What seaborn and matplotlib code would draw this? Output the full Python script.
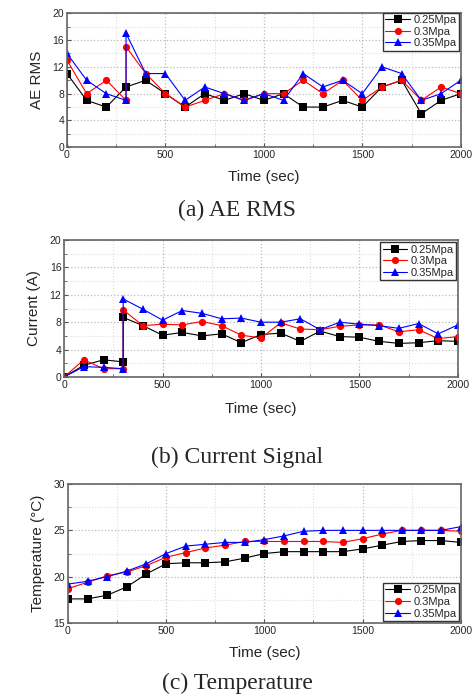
import pandas as pd
import matplotlib.pyplot as plt
import seaborn as sns
from matplotlib.ticker import MultipleLocator

# ---- data ----
pressures = ['0.25Mpa', '0.3Mpa', '0.35Mpa']

time = [0, 100, 200, 300, 400, 500, 600, 700, 800, 900, 1000,
        1100, 1200, 1300, 1400, 1500, 1600, 1700, 1800, 1900, 2000]
# same times with the step at 300 s (and at 0 s) written twice
time_j300 = [0, 100, 200, 300, 300, 400, 500, 600, 700, 800, 900, 1000,
             1100, 1200, 1300, 1400, 1500, 1600, 1700, 1800, 1900, 2000]
time_j0_300 = [0, 0, 100, 200, 300, 300, 400, 500, 600, 700, 800, 900, 1000,
               1100, 1200, 1300, 1400, 1500, 1600, 1700, 1800, 1900, 2000]

ae_025 = [11, 7, 6, 9, 10, 8, 6, 8, 7, 8, 7, 8, 6, 6, 7, 6, 9, 10, 5, 7, 8]
ae_030 = [13, 8, 10, 7, 15, 11, 8, 6, 7, 8, 7, 8, 8, 10, 8, 10, 7, 9, 10, 7, 9, 8]
ae_035 = [0, 14, 10, 8, 7, 17, 11, 11, 7, 9, 8, 7, 8, 7, 11, 9, 10, 8, 12, 11, 7, 8, 10]

cur_025 = [0, 1.7, 2.5, 2.2, 8.7, 7.5, 6.1, 6.5, 6.0, 6.3, 5.0, 6.2,
           6.4, 5.2, 6.7, 5.9, 5.8, 5.2, 4.9, 5.0, 5.3, 5.2]
cur_030 = [0, 2.5, 1.2, 1.2, 9.8, 7.5, 7.7, 7.6, 8.1, 7.5, 6.1, 5.7,
           7.9, 7.0, 6.9, 7.4, 7.6, 7.6, 6.6, 6.9, 5.6, 5.9]
cur_035 = [0, 1.5, 1.4, 1.2, 11.4, 9.9, 8.3, 9.7, 9.3, 8.5, 8.6, 8.0,
           8.0, 8.5, 6.9, 8.0, 7.7, 7.5, 7.1, 7.8, 6.3, 7.6]

temp_025 = [17.6, 17.6, 18.0, 18.9, 20.3, 21.4, 21.5, 21.5, 21.6, 22.0, 22.5,
            22.7, 22.7, 22.7, 22.7, 23.0, 23.4, 23.8, 23.9, 23.9, 23.7]
temp_030 = [18.7, 19.4, 20.1, 20.5, 21.2, 22.1, 22.6, 23.1, 23.4, 23.8, 23.8,
            23.8, 23.8, 23.8, 23.7, 24.1, 24.6, 25.0, 25.0, 25.0, 24.9]
temp_035 = [19.2, 19.5, 20.0, 20.6, 21.4, 22.5, 23.3, 23.5, 23.7, 23.7, 24.0,
            24.4, 24.9, 25.0, 25.0, 25.0, 25.0, 25.0, 25.0, 25.0, 25.4]

palette = {'0.25Mpa': '#000000', '0.3Mpa': '#ff0000', '0.35Mpa': '#0000ff'}
markers = {'0.25Mpa': 's', '0.3Mpa': 'o', '0.35Mpa': '^'}


def long_df(series):
    rows = []
    for name, (t, v) in zip(pressures, series):
        for x, y in zip(t, v):
            rows.append({'Time': x, 'Value': y, 'Pressure': name})
    return pd.DataFrame(rows)


sns.set_theme(style="white")
plt.rcParams['font.family'] = ['Liberation Sans', 'DejaVu Sans']

fig = plt.figure(figsize=(4.75, 6.98), dpi=100)

panels = [
    dict(rect=[0.141, 0.789, 0.829, 0.192], ylabel='AE RMS', ylim=(0, 20), major=4, minor=2,
         series=[(time, ae_025), (time_j300, ae_030), (time_j0_300, ae_035)],
         leg_loc='upper right', leg_anchor=(1.0, 1.02), caption='(a) AE RMS', cap_y=210, xl_y=177),
    dict(rect=[0.135, 0.460, 0.829, 0.196], ylabel='Current (A)', ylim=(0, 20), major=4, minor=2,
         series=[(time_j300, cur_025), (time_j300, cur_030), (time_j300, cur_035)],
         leg_loc='upper right', leg_anchor=(1.0, 1.0), caption='(b) Current Signal', cap_y=457, xl_y=409),
    dict(rect=[0.143, 0.1075, 0.827, 0.199], ylabel='Temperature (°C)', ylim=(15, 30), major=5, minor=2.5,
         series=[(time, temp_025), (time, temp_030), (time, temp_035)],
         leg_loc='lower right', leg_anchor=(1.0, 0.0), caption='(c) Temperature', cap_y=683, xl_y=653),
]

for p in panels:
    ax = fig.add_axes(p['rect'])
    df = long_df(p['series'])
    sns.lineplot(data=df, x='Time', y='Value', hue='Pressure', style='Pressure',
                 palette=palette, markers=markers, dashes=False, sort=False,
                 estimator=None, units='Pressure', linewidth=0.8, markersize=5.2,
                 markeredgewidth=0, ax=ax)
    ax.set_xlim(0, 2000)
    ax.set_ylim(*p['ylim'])
    ax.xaxis.set_major_locator(MultipleLocator(500))
    ax.xaxis.set_minor_locator(MultipleLocator(250))
    ax.yaxis.set_major_locator(MultipleLocator(p['major']))
    ax.yaxis.set_minor_locator(MultipleLocator(p['minor']))
    ax.grid(which='major', color='#bbbbbb', linestyle=':', linewidth=0.9)
    ax.grid(which='minor', color='#dddddd', linestyle=':', linewidth=0.8)
    ax.tick_params(which='major', direction='in', length=3, width=0.8, labelsize=7.5,
                   color='#555555', bottom=True, left=True, pad=2)
    ax.tick_params(which='minor', direction='in', length=2, width=0.6,
                   color='#555555', bottom=True, left=True)
    for s in ax.spines.values():
        s.set_color('#666666')
        s.set_linewidth(1.2)
    ax.set_xlabel('')
    fig.text(p['rect'][0] + p['rect'][2] / 2, 1 - p['xl_y'] / 698,
             'Time (sec)', ha='center', va='center', fontsize=11)
    ax.set_ylabel(p['ylabel'], fontsize=11, labelpad=6)
    ax.legend(loc=p['leg_loc'], bbox_to_anchor=p['leg_anchor'], frameon=True,
              fancybox=False, edgecolor='#333333', framealpha=1, fontsize=8,
              handlelength=2.2, handletextpad=0.3, borderpad=0.2, labelspacing=0.15,
              borderaxespad=0.2)
    fig.text(0.5, 1 - p['cap_y'] / 698, p['caption'], ha='center', va='center',
             fontsize=17, family=['Liberation Serif', 'DejaVu Serif'])

fig.savefig('out.png', dpi=100)
plt.close(fig)
